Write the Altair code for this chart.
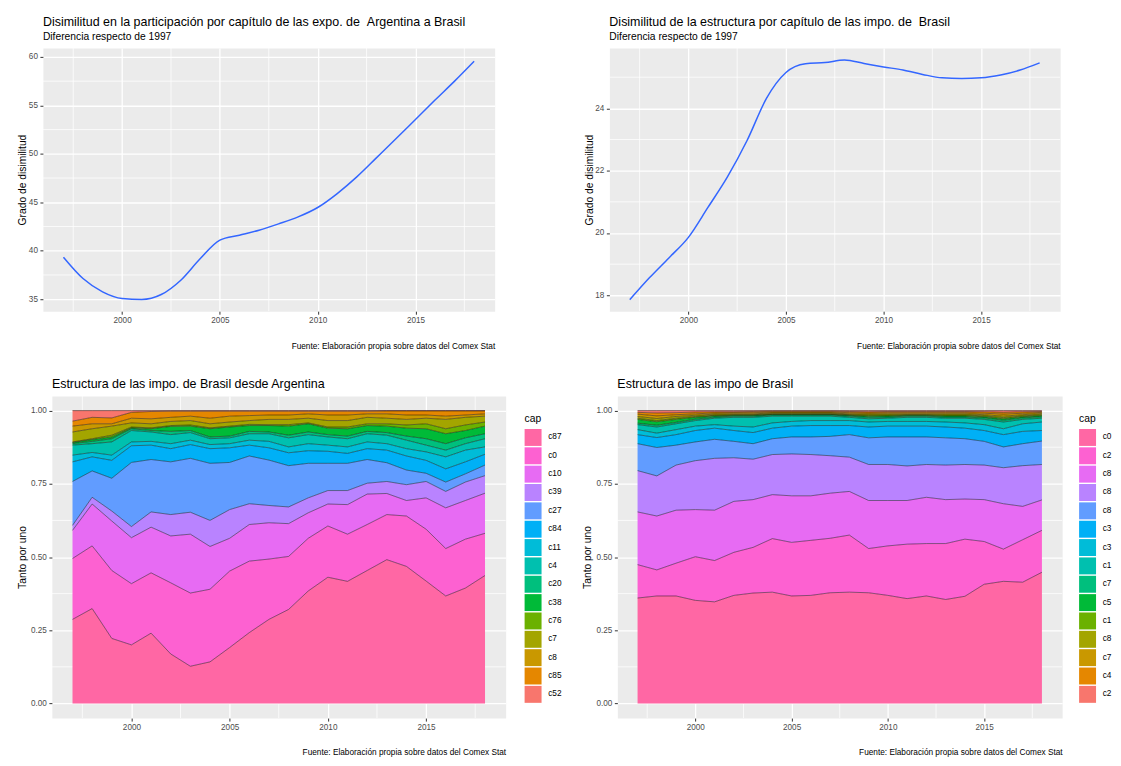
import altair as alt
import pandas as pd

FONT = "Liberation Sans"
PANEL_BG = "#EBEBEB"
LINE_BLUE = "#3366FF"

YEARS = [1997, 1998, 1999, 2000, 2001, 2002, 2003, 2004, 2005, 2006, 2007,
         2008, 2009, 2010, 2011, 2012, 2013, 2014, 2015, 2016, 2017, 2018]

# ---- top-left: dissimilarity, Argentina exports to Brazil (smoothed) ----
ARG_DISSIM = [39.33, 37.13, 35.76, 35.07, 34.97, 35.48, 36.96, 39.20, 41.09, 41.60, 42.12,
              42.77, 43.49, 44.46, 45.90, 47.62, 49.58, 51.55, 53.55, 55.55, 57.50, 59.55]
# ---- top-right: dissimilarity, Brazil imports (smoothed) ----
BRA_DISSIM = [17.86, 18.56, 19.20, 19.86, 20.82, 21.80, 22.96, 24.32, 25.15, 25.43, 25.47,
              25.55, 25.44, 25.33, 25.23, 25.09, 24.98, 24.96, 24.98, 25.07, 25.23, 25.46]

# ---- bottom-left: structure of Brazil imports from Argentina ----
# upper edge (cumulative share) of each chapter, stacked bottom -> top
ARG_CAPS = ["c87", "c0", "c10", "c39", "c27", "c84", "c11", "c4", "c20", "c38",
            "c76", "c7", "c8", "c85", "c52"]
ARG_C87 = [0.287, 0.324, 0.222, 0.200, 0.240, 0.169, 0.127, 0.142, 0.191, 0.242, 0.287,
           0.321, 0.384, 0.431, 0.417, 0.454, 0.491, 0.468, 0.418, 0.367, 0.394, 0.437]
ARG_C0 = [0.495, 0.538, 0.454, 0.409, 0.446, 0.412, 0.377, 0.390, 0.452, 0.486, 0.493,
          0.502, 0.564, 0.606, 0.578, 0.611, 0.645, 0.640, 0.595, 0.529, 0.561, 0.581]
ARG_C10 = [0.591, 0.681, 0.623, 0.566, 0.602, 0.572, 0.578, 0.536, 0.564, 0.611, 0.617,
           0.614, 0.651, 0.681, 0.679, 0.715, 0.717, 0.693, 0.702, 0.668, 0.693, 0.718]
ARG_C39 = [0.608, 0.704, 0.657, 0.604, 0.654, 0.645, 0.653, 0.625, 0.662, 0.682, 0.676,
           0.671, 0.702, 0.727, 0.727, 0.752, 0.758, 0.747, 0.758, 0.724, 0.756, 0.778]
ARG_C27 = [0.758, 0.794, 0.769, 0.823, 0.833, 0.825, 0.837, 0.820, 0.823, 0.845, 0.831,
           0.812, 0.820, 0.820, 0.820, 0.833, 0.822, 0.797, 0.786, 0.756, 0.784, 0.814]
ARG_C84 = [0.825, 0.842, 0.830, 0.880, 0.882, 0.870, 0.884, 0.870, 0.873, 0.882, 0.873,
           0.856, 0.863, 0.861, 0.854, 0.870, 0.865, 0.845, 0.830, 0.801, 0.825, 0.851]
ARG_C11 = [0.848, 0.857, 0.848, 0.893, 0.895, 0.887, 0.899, 0.884, 0.887, 0.899, 0.895,
           0.876, 0.887, 0.882, 0.876, 0.893, 0.887, 0.870, 0.859, 0.842, 0.865, 0.876]
ARG_C4 = [0.882, 0.887, 0.893, 0.932, 0.927, 0.918, 0.925, 0.904, 0.907, 0.921, 0.921,
          0.907, 0.918, 0.910, 0.904, 0.921, 0.916, 0.899, 0.882, 0.865, 0.887, 0.904]
ARG_C20 = [0.887, 0.895, 0.904, 0.938, 0.932, 0.929, 0.932, 0.910, 0.913, 0.929, 0.927,
           0.916, 0.927, 0.918, 0.913, 0.929, 0.925, 0.913, 0.904, 0.887, 0.907, 0.921]
ARG_C38 = [0.891, 0.901, 0.910, 0.941, 0.938, 0.946, 0.947, 0.938, 0.944, 0.949, 0.949,
           0.947, 0.955, 0.940, 0.938, 0.949, 0.947, 0.940, 0.938, 0.921, 0.932, 0.947]
ARG_C76 = [0.893, 0.904, 0.916, 0.944, 0.941, 0.949, 0.951, 0.941, 0.947, 0.953, 0.952,
           0.952, 0.958, 0.944, 0.944, 0.955, 0.955, 0.951, 0.955, 0.938, 0.951, 0.961]
ARG_C7 = [0.927, 0.938, 0.947, 0.958, 0.955, 0.963, 0.966, 0.955, 0.961, 0.966, 0.970,
          0.970, 0.974, 0.966, 0.966, 0.977, 0.974, 0.970, 0.974, 0.970, 0.977, 0.981]
ARG_C8 = [0.947, 0.955, 0.955, 0.974, 0.972, 0.977, 0.981, 0.974, 0.981, 0.983, 0.985,
          0.985, 0.989, 0.985, 0.985, 0.989, 0.989, 0.985, 0.985, 0.981, 0.985, 0.989]
ARG_C85 = [0.964, 0.977, 0.975, 0.994, 0.997, 0.998, 0.998, 0.998, 0.998, 0.998, 0.998,
           0.998, 0.998, 0.998, 0.998, 0.998, 0.999, 0.999, 0.999, 0.999, 0.999, 0.999]
ARG_C52 = [1.0, 1.0, 1.0, 1.0, 1.0, 1.0, 1.0, 1.0, 1.0, 1.0, 1.0,
           1.0, 1.0, 1.0, 1.0, 1.0, 1.0, 1.0, 1.0, 1.0, 1.0, 1.0]
ARG_TOPS = [ARG_C87, ARG_C0, ARG_C10, ARG_C39, ARG_C27, ARG_C84, ARG_C11, ARG_C4,
            ARG_C20, ARG_C38, ARG_C76, ARG_C7, ARG_C8, ARG_C85, ARG_C52]

# ---- bottom-right: structure of Brazil imports ----
BRA_CAPS = ["c0", "c27", "c84", "c85", "c87", "c39", "c30", "c10", "c72", "c52",
            "c12", "c88", "c73", "c40", "c29"]
BRA_C0 = [0.360, 0.367, 0.367, 0.352, 0.347, 0.369, 0.377, 0.380, 0.367, 0.369, 0.378,
          0.380, 0.378, 0.369, 0.358, 0.367, 0.355, 0.366, 0.407, 0.417, 0.414, 0.448]
BRA_C27 = [0.474, 0.456, 0.479, 0.501, 0.488, 0.516, 0.533, 0.563, 0.550, 0.557, 0.564,
           0.575, 0.529, 0.538, 0.544, 0.546, 0.546, 0.561, 0.553, 0.527, 0.559, 0.591]
BRA_C84 = [0.654, 0.640, 0.660, 0.662, 0.660, 0.690, 0.696, 0.713, 0.709, 0.709, 0.718,
           0.724, 0.693, 0.693, 0.693, 0.704, 0.696, 0.698, 0.696, 0.682, 0.673, 0.695]
BRA_C85 = [0.795, 0.777, 0.814, 0.829, 0.837, 0.839, 0.834, 0.850, 0.852, 0.850, 0.846,
           0.841, 0.816, 0.816, 0.811, 0.816, 0.814, 0.816, 0.814, 0.805, 0.812, 0.816]
BRA_C87 = [0.887, 0.874, 0.882, 0.893, 0.902, 0.895, 0.887, 0.904, 0.910, 0.910, 0.912,
           0.918, 0.907, 0.910, 0.910, 0.910, 0.907, 0.904, 0.895, 0.876, 0.887, 0.896]
BRA_C39 = [0.918, 0.908, 0.918, 0.932, 0.940, 0.932, 0.925, 0.940, 0.947, 0.949, 0.949,
           0.949, 0.944, 0.947, 0.947, 0.947, 0.944, 0.940, 0.932, 0.918, 0.929, 0.932]
BRA_C30 = [0.935, 0.923, 0.935, 0.947, 0.952, 0.947, 0.944, 0.958, 0.963, 0.966, 0.966,
           0.966, 0.961, 0.963, 0.963, 0.963, 0.961, 0.958, 0.952, 0.938, 0.955, 0.961]
BRA_C10 = [0.952, 0.944, 0.955, 0.966, 0.974, 0.977, 0.977, 0.981, 0.981, 0.981, 0.981,
           0.977, 0.972, 0.974, 0.977, 0.977, 0.974, 0.974, 0.970, 0.961, 0.970, 0.974]
BRA_C72 = [0.957, 0.950, 0.960, 0.971, 0.978, 0.981, 0.981, 0.985, 0.985, 0.985, 0.985,
           0.981, 0.977, 0.978, 0.981, 0.981, 0.978, 0.978, 0.975, 0.967, 0.975, 0.979]
BRA_C52 = [0.970, 0.962, 0.970, 0.977, 0.982, 0.984, 0.984, 0.987, 0.987, 0.987, 0.987,
           0.984, 0.981, 0.982, 0.984, 0.984, 0.982, 0.982, 0.979, 0.972, 0.979, 0.983]
BRA_C12 = [0.974, 0.966, 0.974, 0.980, 0.984, 0.986, 0.986, 0.989, 0.989, 0.989, 0.989,
           0.986, 0.984, 0.985, 0.986, 0.986, 0.985, 0.985, 0.982, 0.976, 0.982, 0.986]
BRA_C88 = [0.980, 0.973, 0.980, 0.984, 0.988, 0.989, 0.989, 0.992, 0.992, 0.992, 0.992,
           0.989, 0.988, 0.989, 0.989, 0.989, 0.989, 0.989, 0.986, 0.981, 0.986, 0.990]
BRA_C73 = [0.988, 0.982, 0.986, 0.989, 0.992, 0.993, 0.993, 0.995, 0.995, 0.995, 0.995,
           0.993, 0.992, 0.993, 0.993, 0.993, 0.993, 0.993, 0.991, 0.988, 0.991, 0.994]
BRA_C40 = [0.994, 0.992, 0.993, 0.995, 0.996, 0.996, 0.997, 0.998, 0.998, 0.998, 0.998,
           0.997, 0.996, 0.997, 0.997, 0.997, 0.997, 0.997, 0.996, 0.994, 0.996, 0.997]
BRA_C29 = [1.0, 1.0, 1.0, 1.0, 1.0, 1.0, 1.0, 1.0, 1.0, 1.0, 1.0,
           1.0, 1.0, 1.0, 1.0, 1.0, 1.0, 1.0, 1.0, 1.0, 1.0, 1.0]
BRA_TOPS = [BRA_C0, BRA_C27, BRA_C84, BRA_C85, BRA_C87, BRA_C39, BRA_C30, BRA_C10,
            BRA_C72, BRA_C52, BRA_C12, BRA_C88, BRA_C73, BRA_C40, BRA_C29]

# ggplot2 default hue palette for 15 levels (legend top -> bottom)
HUE15_LEGEND = ["#FF67A4", "#FD61D1", "#E76BF3", "#B983FF", "#619CFF", "#00B0F6",
                "#00BCD8", "#00C0AF", "#00BF7D", "#00BA38", "#6BB100", "#A3A500",
                "#C99800", "#E58700", "#F8766D"]

X_TICKS = [2000, 2005, 2010, 2015]
X_MINOR = [1997.5, 2002.5, 2007.5, 2012.5, 2017.5]
X_DOMAIN = [1995.95, 2019.05]
Y_TL_TICKS = [35, 40, 45, 50, 55, 60]
Y_TL_MINOR = [37.5, 42.5, 47.5, 52.5, 57.5]
Y_TL_DOMAIN = [33.76, 60.93]
Y_TR_TICKS = [18, 20, 22, 24]
Y_TR_MINOR = [19, 21, 23, 25]
Y_TR_DOMAIN = [17.49, 25.94]
Y_B_TICKS = [0, 0.25, 0.5, 0.75, 1.0]
Y_B_MINOR = [0.125, 0.375, 0.625, 0.875]
Y_B_DOMAIN = [-0.05, 1.05]

TITLE_TL = "Disimilitud en la participación por capítulo de las expo. de \u00a0Argentina a Brasil"
TITLE_TR = "Disimilitud de la estructura por capítulo de las impo. de \u00a0Brasil"
TITLE_BL = "Estructura de las impo. de Brasil desde Argentina"
TITLE_BR = "Estructura de las impo de Brasil"
SUBTITLE = "Diferencia respecto de 1997"
FOOTNOTE = "Fuente: Elaboración propia sobre datos del Comex Stat"
Y_TITLE_TOP = "Grado de disimilitud"
Y_TITLE_BOTTOM = "Tanto por uno"

MAJOR_W = 1.3
MINOR_W = 0.75


def x_enc(pad):
    return alt.X("anio:Q", scale=alt.Scale(domain=X_DOMAIN, nice=False, zero=False),
                 axis=alt.Axis(values=X_TICKS, format="d", gridWidth=MAJOR_W,
                               title=FOOTNOTE, titleAnchor="end", titlePadding=pad,
                               titleFontSize=8.3, titleColor="black", titleFontWeight="normal"))


def y_enc(field, dom, ticks, fmt, title, tpad):
    return alt.Y(f"{field}:Q", scale=alt.Scale(domain=dom, nice=False, zero=False),
                 axis=alt.Axis(values=ticks, format=fmt, gridWidth=MAJOR_W, title=title,
                               titlePadding=tpad))


def minor_grid(x, y, yfield, yminor):
    vx = alt.Chart(pd.DataFrame({"anio": X_MINOR})).mark_rule(
        color="white", strokeWidth=MINOR_W).encode(x=x)
    hy = alt.Chart(pd.DataFrame({yfield: yminor})).mark_rule(
        color="white", strokeWidth=MINOR_W).encode(y=y)
    return [vx, hy]


def make_title(text, sub=None):
    kw = dict(text=text, anchor="start", frame="group", font=FONT, fontSize=12.5,
              fontWeight="normal", color="black", offset=5)
    if sub:
        kw.update(subtitle=sub, subtitleFont=FONT, subtitleFontSize=10.3,
                  subtitleColor="black", subtitlePadding=4)
    return alt.TitleParams(**kw)


def line_panel(values, ticks, minor, dom, title, width):
    df = pd.DataFrame({"anio": YEARS, "valor": values})
    x = x_enc(18)
    y = y_enc("valor", dom, ticks, "d", Y_TITLE_TOP, 0.8)
    line = alt.Chart(df).mark_line(color=LINE_BLUE, strokeWidth=1.5, interpolate="monotone").encode(
        x=x, y=y)
    return alt.layer(*minor_grid(x, y, "valor", minor), line).properties(
        width=width, height=264, title=make_title(title, SUBTITLE))


def area_panel(caps, tops, title, width, legend_x, truncate, field):
    rows = []
    for i, (cap, top) in enumerate(zip(caps, tops)):
        below = tops[i - 1] if i > 0 else None
        for j, yr in enumerate(YEARS):
            rows.append({"anio": yr, field: cap, "top": top[j],
                         "bottom": below[j] if below is not None else 0.0})
    df = pd.DataFrame(rows)
    leg = dict(title="cap", orient="none", legendX=legend_x, legendY=18, symbolType="square",
               symbolSize=289, symbolStrokeWidth=0, symbolOpacity=1, titleFont=FONT,
               titleFontSize=10.3, titleFontWeight="normal", titleColor="black", titlePadding=4.8,
               labelFont=FONT, labelFontSize=8.3, labelColor="black", labelOffset=6.7,
               rowPadding=1.4, padding=0)
    if truncate:
        leg["labelExpr"] = "substring(datum.label, 0, 2)"
    x = x_enc(17)
    y = y_enc("top", Y_B_DOMAIN, Y_B_TICKS, ".2f", Y_TITLE_BOTTOM, 3)
    area = alt.Chart(df).mark_area(opacity=1).encode(
        x=x, y=y, y2="bottom:Q",
        color=alt.Color(f"{field}:N", title="cap",
                        scale=alt.Scale(domain=caps, range=HUE15_LEGEND),
                        legend=alt.Legend(**leg)),
    )
    outline = alt.Chart(df).mark_line(color="black", strokeWidth=0.5, opacity=0.9).encode(
        x=x, y=y, detail=f"{field}:N")
    return alt.layer(*minor_grid(x, y, "top", Y_B_MINOR), area, outline).properties(
        width=width, height=323, title=make_title(title))


def spacer():
    return alt.Chart(pd.DataFrame({"s": [0]})).mark_point(size=1, opacity=0).encode(
        x=alt.value(0), y=alt.value(0)
    ).properties(width=1, height=1, view=alt.ViewBackground(fill="white", stroke="transparent"))


tl = line_panel(ARG_DISSIM, Y_TL_TICKS, Y_TL_MINOR, Y_TL_DOMAIN, TITLE_TL, 453)
tr = line_panel(BRA_DISSIM, Y_TR_TICKS, Y_TR_MINOR, Y_TR_DOMAIN, TITLE_TR, 452)
bl = area_panel(ARG_CAPS, ARG_TOPS, TITLE_BL, 455, 474, False, "cap_arg")
br = area_panel(BRA_CAPS, BRA_TOPS, TITLE_BR, 446, 463, True, "cap_bra")

row_top = alt.hconcat(spacer(), alt.hconcat(tl, tr, spacing=88), spacing=0)
row_bottom = alt.hconcat(
    spacer(),
    alt.hconcat(bl, br, spacing=19).resolve_scale(color="independent").resolve_legend(color="independent"),
    spacing=0,
).resolve_scale(color="independent").resolve_legend(color="independent")

chart = alt.vconcat(
    row_top, row_bottom, spacing=26,
).resolve_scale(color="independent").resolve_legend(color="independent").properties(
    padding={"left": 6, "top": 6, "right": 0, "bottom": 0},
).configure(
    background="white", font=FONT,
).configure_view(
    fill=PANEL_BG, stroke="transparent",
).configure_axis(
    domain=False, gridColor="white", tickColor="#333333", tickSize=3, labelPadding=2.5,
    labelColor="#4D4D4D", labelFont=FONT, labelFontSize=8.2, labelFlush=False,
    labelOverlap=False, titleFont=FONT, titleFontWeight="normal", titleColor="black",
    titleFontSize=10.3,
)

chart.save("out.html", embed_options={"renderer": "svg", "actions": False})
